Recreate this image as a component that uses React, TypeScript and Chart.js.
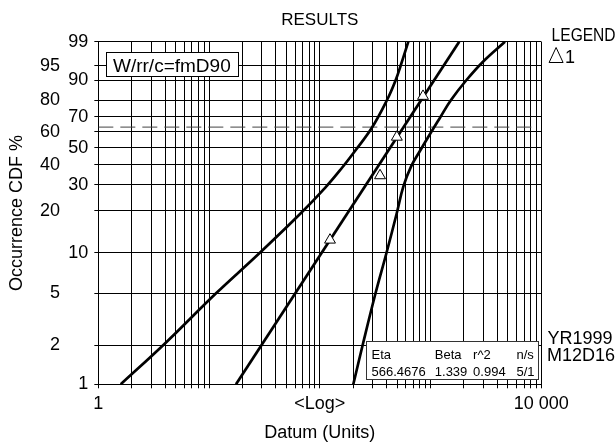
import React, { useEffect, useRef } from 'react';
import { Chart, registerables } from 'chart.js';

Chart.register(...registerables);

const FONT = "'Liberation Sans', Arial, Helvetica, sans-serif";

// ---- data ----
const xGridValues = [
  1, 2, 3, 4, 5, 6, 7, 8, 9,
  10, 20, 30, 40, 50, 60, 70, 80, 90,
  100, 200, 300, 400, 500, 600, 700, 800, 900,
  1000, 2000, 3000, 4000, 5000, 6000, 7000, 8000, 9000,
  10000,
];
const xLabelValues = [1, 100, 10000];
const xLabelTexts = ['1', '<Log>', '10 000'];

const yTickPercents = [1, 2, 5, 10, 20, 30, 40, 50, 60, 70, 80, 90, 95, 99];
const innerTickLabels = ['1', '10', '30', '50', '70', '90', '99'];
const outerTickLabels = ['2', '5', '20', '40', '60', '80', '95'];

// failure points (triangles)
const pointsX = [123.6, 349.7, 496, 855];
const pointsF = [12.44, 34.3, 56.7, 82.4];

// Weibull fit line
const fitX = [17.5, 1815];
const fitF = [1, 99];

// upper confidence bound (left curve)
const upperX = [1.593, 4.061, 11.56, 27.96, 67.66, 112.6, 158.0, 205.3, 293.0, 404.4, 482.6, 535.5, 629.8];
const upperF = [1, 2.09, 4.99, 9.82, 19.36, 28.87, 38.19, 47.48, 62.42, 80.28, 89.99, 94.93, 99];

// lower confidence bound (right curve)
const lowerX = [200.7, 246.5, 318.4, 398.6, 495.8, 567.5, 666.1, 811.6, 988.6, 1217, 1530, 2111, 2976, 4700];
const lowerF = [1, 2.09, 4.99, 9.9, 19.36, 29.13, 38.89, 48.51, 58.68, 69.36, 80.28, 90.19, 96.01, 99];

// 63.2 % reference line
const refX = [1, 9085];
const refF = [63.2, 63.2];

const statHeaders = ['Eta', 'Beta', 'r^2', 'n/s'];
const statValues = ['566.4676', '1.339', '0.994', '5/1'];
const boxLabel = 'W/rr/c=fmD90';
const legendTitle = 'LEGEND';
const legendItem = '1';
const stampLines = ['YR1999', 'M12D16'];

// ---- helpers ----
const weib = (p: number) => Math.log(-Math.log(1 - p / 100));
const toXY = (xs: number[], fs: number[]) => xs.map((x, i) => ({ x, y: weib(fs[i]) }));
const near = (a: number, b: number) => Math.abs(a - b) < 1e-6 * Math.max(1, Math.abs(b));

const overlayPlugin = {
  id: 'overlay',
  afterDatasetsDraw(chart: any) {
    const { ctx, chartArea: a } = chart;
    ctx.save();
    ctx.lineWidth = 1;
    ctx.strokeStyle = '#000';
    ctx.fillStyle = '#000';
    ctx.textBaseline = 'alphabetic';
    ctx.textAlign = 'left';

    // W/rr/c box
    {
      const bx = Math.round(a.left + 8) + 0.5;
      const by = Math.round(a.top + 10) + 0.5;
      const bw = 132;
      const bh = 24;
      ctx.fillStyle = '#fff';
      ctx.fillRect(bx, by, bw, bh);
      ctx.strokeRect(bx, by, bw, bh);
      ctx.fillStyle = '#000';
      ctx.font = `19px ${FONT}`;
      ctx.fillText(boxLabel, bx + 6.5, by + 19);
    }

    // stats box
    {
      const bw = 172;
      const bh = 38;
      const bx = Math.round(a.right - 3 - bw) + 0.5;
      const by = Math.round(a.bottom - 5 - bh) + 0.5;
      ctx.fillStyle = '#fff';
      ctx.fillRect(bx, by, bw, bh);
      ctx.strokeStyle = '#333';
      ctx.strokeRect(bx, by, bw, bh);
      ctx.fillStyle = '#000';
      ctx.font = `13px ${FONT}`;
      const cols = [5, 68.3, 106.6, 150];
      statHeaders.forEach((t, i) => ctx.fillText(t, bx + cols[i], by + 17.5));
      statValues.forEach((t, i) => ctx.fillText(t, bx + cols[i], by + 34));
    }
    ctx.restore();
  },
  afterDraw(chart: any) {
    const { ctx, chartArea: a } = chart;
    ctx.save();
    ctx.fillStyle = '#000';
    ctx.strokeStyle = '#000';
    ctx.textAlign = 'left';
    ctx.textBaseline = 'alphabetic';
    ctx.font = `18px ${FONT}`;
    const lx = a.right + 10.3;
    ctx.fillText(legendTitle, lx, 40.7, 64);
    // triangle symbol
    ctx.lineWidth = 1;
    ctx.beginPath();
    ctx.moveTo(lx - 2.5, 62.5);
    ctx.lineTo(lx + 11.5, 62.5);
    ctx.lineTo(lx + 4.5, 47.5);
    ctx.closePath();
    ctx.stroke();
    ctx.fillText(legendItem, lx + 13.5, 62.5);

    ctx.fillText(stampLines[0], a.right + 6.2, 344);
    ctx.fillText(stampLines[1], a.right + 5.7, 360.7);
    ctx.restore();
  },
};

export default function App() {
  const ref = useRef<HTMLCanvasElement>(null);

  useEffect(() => {
    const canvas = ref.current;
    if (!canvas) return;
    const yMin = weib(1);
    const yMax = weib(99);
    const yTicksBuilder = (scale: any) => {
      scale.ticks = yTickPercents.map((p) => ({ value: weib(p) }));
    };
    const tickFont = { family: FONT, size: 18 };

    const chart = new Chart(canvas, {
      type: 'scatter',
      data: {
        datasets: [
          {
            label: '1',
            data: toXY(pointsX, pointsF),
            showLine: false,
            pointStyle: 'triangle',
            pointRadius: 6.3,
            pointBorderWidth: 1,
            pointBorderColor: '#000',
            pointBackgroundColor: '#fff',
          },
          {
            label: 'fit',
            data: toXY(fitX, fitF),
            showLine: true,
            borderColor: '#000',
            borderWidth: 2.7,
            pointRadius: 0,
          },
          {
            label: 'upper',
            data: toXY(upperX, upperF),
            showLine: true,
            borderColor: '#000',
            borderWidth: 2.7,
            pointRadius: 0,
            tension: 0.4,
          },
          {
            label: 'lower',
            data: toXY(lowerX, lowerF),
            showLine: true,
            borderColor: '#000',
            borderWidth: 2.7,
            pointRadius: 0,
            tension: 0.4,
          },
          {
            label: 'ref',
            data: toXY(refX, refF),
            showLine: true,
            borderColor: '#444',
            borderWidth: 1,
            borderDash: [15, 7],
            pointRadius: 0,
          },
        ],
      } as any,
      options: {
        responsive: false,
        animation: false,
        events: [],
        layout: { padding: { left: 0, right: 74.7, top: 0, bottom: 0 } },
        plugins: {
          legend: { display: false },
          tooltip: { enabled: false },
          title: {
            display: true,
            text: 'RESULTS',
            fullSize: false,
            color: '#000',
            font: { family: FONT, size: 17, weight: 'normal', lineHeight: 1.2 },
            padding: { top: 9.8, bottom: 11.5 },
          },
        },
        scales: {
          x: {
            type: 'logarithmic',
            min: 1,
            max: 10000,
            afterBuildTicks: (scale: any) => {
              scale.ticks = xGridValues.map((v) => ({ value: v }));
            },
            grid: { color: '#000', lineWidth: 1, drawTicks: true, tickLength: 4 },
            border: { color: '#000', width: 1 },
            ticks: {
              autoSkip: false,
              maxRotation: 0,
              minRotation: 0,
              padding: 5,
              color: '#000',
              font: tickFont,
              callback: (v: any) => {
                const i = xLabelValues.findIndex((t) => near(Number(v), t));
                return i >= 0 ? xLabelTexts[i] : '';
              },
            },
            title: {
              display: true,
              text: 'Datum (Units)',
              color: '#000',
              font: { family: FONT, size: 18, lineHeight: 1 },
              padding: { top: 4.1, bottom: 0 },
            },
          },
          y: {
            type: 'linear',
            position: 'left',
            weight: 0,
            min: yMin,
            max: yMax,
            afterBuildTicks: yTicksBuilder,
            grid: { color: '#000', lineWidth: 1, drawTicks: true, tickLength: 4 },
            border: { color: '#000', width: 1 },
            ticks: {
              padding: 6,
              color: '#000',
              font: tickFont,
              callback: (_v: any, i: number) => {
                const s = String(yTickPercents[i]);
                return innerTickLabels.includes(s) ? s : '';
              },
            },
          },
          y2: {
            type: 'linear',
            position: 'left',
            weight: 1,
            min: yMin,
            max: yMax,
            afterBuildTicks: yTicksBuilder,
            grid: { display: false, drawTicks: false, drawOnChartArea: false },
            border: { display: false },
            ticks: {
              padding: 2.3,
              color: '#000',
              font: tickFont,
              callback: (_v: any, i: number) => {
                const s = String(yTickPercents[i]);
                return outerTickLabels.includes(s) ? s : '';
              },
            },
            title: {
              display: true,
              text: 'Occurrence CDF %',
              color: '#000',
              font: { family: FONT, size: 18, lineHeight: 1 },
              padding: { top: 8.5, bottom: 11.2 },
            },
          },
        },
      } as any,
      plugins: [overlayPlugin],
    });
    return () => chart.destroy();
  }, []);

  return (
    <div style={{ position: 'fixed', left: 0, top: 0, width: 616, height: 442, background: '#fff' }}>
      <canvas ref={ref} width={616} height={442} style={{ display: 'block', width: 616, height: 442 }} />
    </div>
  );
}
